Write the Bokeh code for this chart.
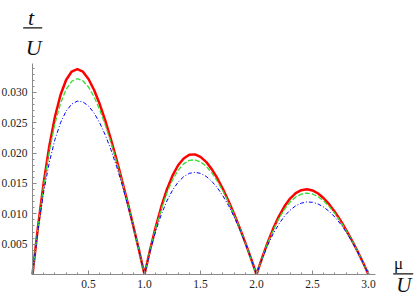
from bokeh.plotting import figure
from bokeh.models import Range1d, FixedTicker, PrintfTickFormatter, Label, LinearAxis
from bokeh.embed import file_html
from bokeh.resources import INLINE

# chemical potential mu/U
mu = [0.00, 0.05, 0.10, 0.15, 0.20, 0.25, 0.30, 0.35, 0.40, 0.45,
      0.50, 0.55, 0.60, 0.65, 0.70, 0.75, 0.80, 0.85, 0.90, 0.95,
      1.00, 1.05, 1.10, 1.15, 1.20, 1.25, 1.30, 1.35, 1.40, 1.45,
      1.50, 1.55, 1.60, 1.65, 1.70, 1.75, 1.80, 1.85, 1.90, 1.95,
      2.00, 2.05, 2.10, 2.15, 2.20, 2.25, 2.30, 2.35, 2.40, 2.45,
      2.50, 2.55, 2.60, 2.65, 2.70, 2.75, 2.80, 2.85, 2.90, 2.95, 3.00]

# red solid curve t/U
red = [0, .00800, .01512, .02114, .02596, .02959, .03205, .03345, .03386, .03342,
       .03223, .03041, .02809, .02535, .02229, .01897, .01546, .01181, .00800, .00408,
       0, .00407, .00783, .01117, .01401, .01630, .01801, .01913, .01973, .01980,
       .01939, .01857, .01737, .01587, .01410, .01213, .00998, .00769, .00525, .00269,
       0, .00273, .00529, .00760, .00959, .01124, .01252, .01340, .01390, .01406,
       .01385, .01335, .01257, .01155, .01032, .00891, .00737, .00569, .00391, .00201, 0]

# green dashed curve t/U
green = [0, .00786, .01468, .02034, .02484, .02821, .03051, .03184, .03227, .03193,
         .03090, .02927, .02716, .02464, .02178, .01864, .01527, .01171, .00797, .00407,
         0, .00400, .00762, .01078, .01344, .01558, .01717, .01823, .01881, .01891,
         .01857, .01785, .01677, .01540, .01376, .01190, .00984, .00762, .00523, .00269,
         0, .00269, .00515, .00734, .00921, .01076, .01195, .01278, .01326, .01343,
         .01327, .01283, .01213, .01120, .01006, .00874, .00726, .00564, .00389, .00201, 0]

# blue dot-dashed curve t/U
blue = [0, .00754, .01364, .01848, .02222, .02500, .02692, .02809, .02857, .02845,
        .02778, .02661, .02500, .02298, .02059, .01786, .01481, .01149, .00789, .00406,
        0, .00386, .00714, .00988, .01212, .01389, .01522, .01613, .01667, .01684,
        .01667, .01618, .01538, .01431, .01296, .01136, .00952, .00746, .00517, .00268,
        0, .00260, .00484, .00675, .00833, .00962, .01061, .01132, .01176, .01196,
        .01190, .01162, .01111, .01039, .00946, .00833, .00702, .00552, .00385, .00200, 0]

x_major = [0.5, 1.0, 1.5, 2.0, 2.5, 3.0]
x_minor = [0.1, 0.2, 0.3, 0.4, 0.6, 0.7, 0.8, 0.9, 1.1, 1.2, 1.3, 1.4, 1.6, 1.7, 1.8, 1.9,
           2.1, 2.2, 2.3, 2.4, 2.6, 2.7, 2.8, 2.9]
y_major = [0.005, 0.010, 0.015, 0.020, 0.025, 0.030]
y_minor = [0.001, 0.002, 0.003, 0.004, 0.006, 0.007, 0.008, 0.009, 0.011, 0.012, 0.013,
           0.014, 0.016, 0.017, 0.018, 0.019, 0.021, 0.022, 0.023, 0.024, 0.026, 0.027,
           0.028, 0.029, 0.031, 0.032, 0.033, 0.034]

SERIF = '"Liberation Serif", serif'

p = figure(width=415, height=299, output_backend="svg", toolbar_location=None,
           x_range=Range1d(-0.2857, 3.4196), y_range=Range1d(-0.00412, 0.045162),
           x_axis_location=None, y_axis_location=None, min_border=0)
p.outline_line_color = None
p.grid.visible = False
p.background_fill_color = "white"

xax = LinearAxis(fixed_location=0, bounds=(0, 3.0625))
yax = LinearAxis(fixed_location=0, bounds=(0, 0.03478))
p.add_layout(xax, "below")
p.add_layout(yax, "left")

for ax, maj, mnr, fmt in ((xax, x_major, x_minor, "%.1f"),
                          (yax, y_major, y_minor, "%.3f")):
    ax.ticker = FixedTicker(ticks=maj, minor_ticks=mnr)
    ax.formatter = PrintfTickFormatter(format=fmt)
    ax.axis_line_color = "#8a8a8a"
    ax.major_tick_line_color = "#8a8a8a"
    ax.minor_tick_line_color = "#8a8a8a"
    ax.major_tick_in = 4
    ax.major_tick_out = 0
    ax.minor_tick_in = 2
    ax.minor_tick_out = 0
    ax.major_label_text_font = SERIF
    ax.major_label_text_font_size = "11.5px"
    ax.major_label_text_color = "#222222"
    ax.major_label_standoff = 5

p.line(mu, red, line_color="#ff0000", line_width=2.5)
p.line(mu, green, line_color="#33dd33", line_width=1.3, line_dash="5 2")
p.line(mu, blue, line_color="#0000ff", line_width=1, line_dash="4 2 1 2")

# axis labels as fractions t/U and mu/U
def lab(x, y, txt, style="italic", size="22px"):
    p.add_layout(Label(x=x, y=y, text=txt, text_font=SERIF, text_font_style=style,
                       text_font_size=size, text_align="center",
                       text_baseline="alphabetic", text_color="#111111"))

lab(-0.0134, 0.04241, "t")
lab(0.0116, 0.03741, "U")
p.segment(x0=[-0.083], y0=[0.04066], x1=[0.0866], y1=[0.04066], line_color="#111111", line_width=1.2)
lab(3.268, 0.00181, "μ", style="normal", size="17px")
lab(3.3152, -0.00181, "U", size="21px")
p.segment(x0=[3.2205], y0=[0.000115], x1=[3.399], y1=[0.000115], line_color="#111111", line_width=1.2)

open("out.html", "w").write(file_html(p, INLINE))
